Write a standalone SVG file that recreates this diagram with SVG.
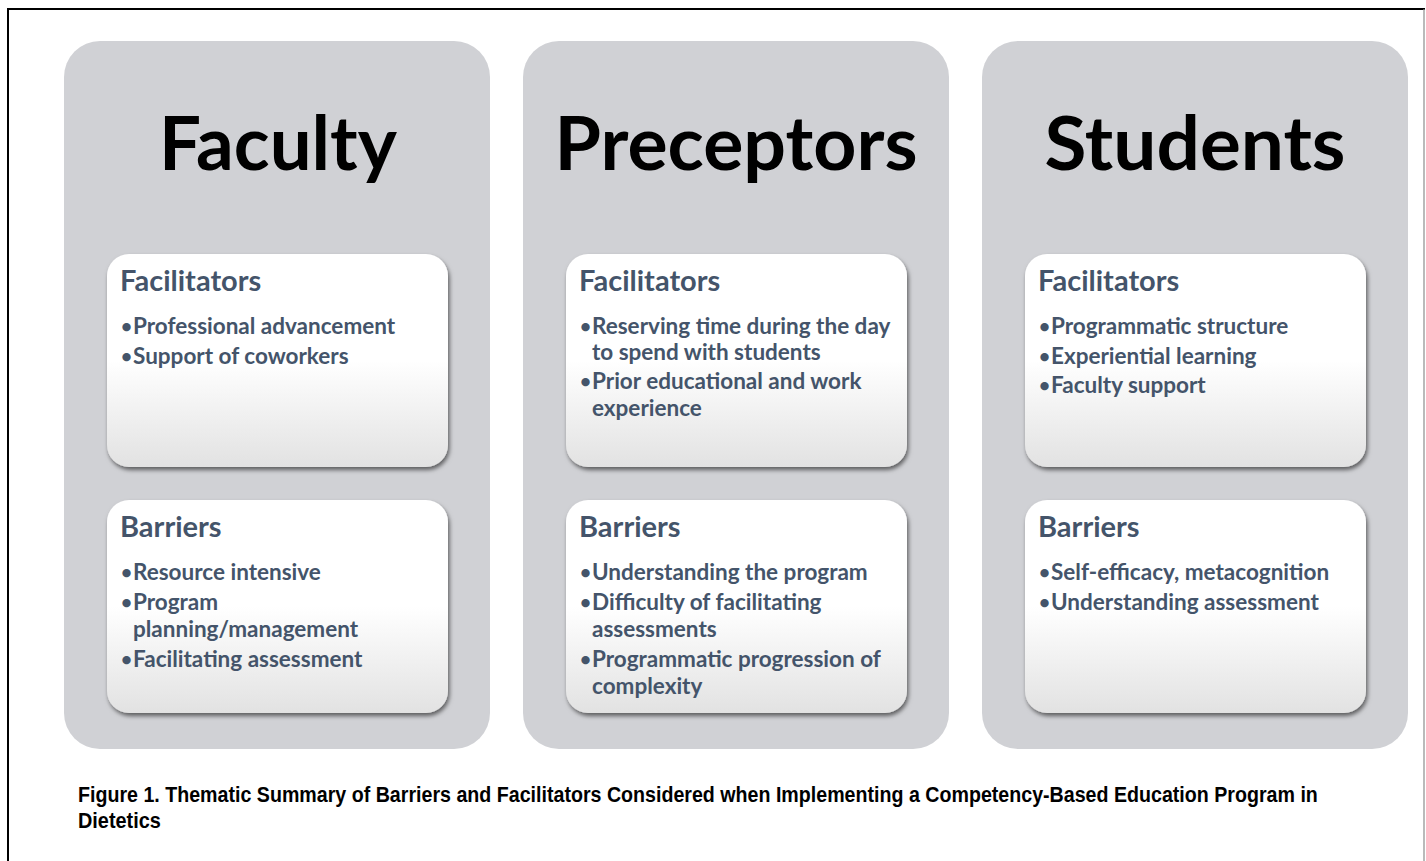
<svg xmlns="http://www.w3.org/2000/svg" width="1426" height="861" viewBox="0 0 1426 861">
  <style>
    .panel { fill: #d0d1d5; }
    .card { fill: url(#cardFill); filter: url(#cardShadow); }
    .title { font-family: Lato, "Liberation Sans", sans-serif; font-weight: 700; font-size: 75px; fill: #000; text-anchor: middle; }
    .head { font-family: Lato, "Liberation Sans", sans-serif; font-weight: 700; font-size: 29px; fill: #44546a; }
    .item { font-family: Lato, "Liberation Sans", sans-serif; font-weight: 700; font-size: 22.5px; fill: #44546a; }
    .dot { font-family: Lato, "Liberation Sans", sans-serif; font-weight: 700; font-size: 19px; fill: #44546a; }
    .caption { font-family: "Liberation Sans", Arial, sans-serif; font-weight: 700; font-size: 22px; fill: #000; }
  </style>
  <defs>
    <linearGradient id="cardFill" x1="0" y1="0" x2="0" y2="1">
      <stop offset="0" stop-color="#ffffff"/>
      <stop offset="0.5" stop-color="#ffffff"/>
      <stop offset="1" stop-color="#e2e2e2"/>
    </linearGradient>
    <filter id="cardShadow" x="-10%" y="-10%" width="120%" height="125%">
      <feDropShadow dx="1.5" dy="3" stdDeviation="2" flood-color="#000" flood-opacity="0.55"/>
    </filter>
  </defs>

  <rect x="0" y="0" width="1426" height="861" fill="#ffffff"/>

  <!-- frame -->
  <g id="frame">
    <line x1="8" y1="9" x2="1425" y2="9" stroke="#000" stroke-width="2"/>
    <line x1="8" y1="8" x2="8" y2="861" stroke="#000" stroke-width="2"/>
    <line x1="1424" y1="9" x2="1424" y2="861" stroke="#8c8c8c" stroke-width="1.2"/>
  </g>

  <!-- Faculty column -->
  <g id="faculty">
    <rect class="panel" x="64" y="41" width="426" height="708" rx="36" ry="36"/>
    <text class="title" x="278" y="170" textLength="238" lengthAdjust="spacingAndGlyphs">Faculty</text>
    <g id="faculty-facilitators">
      <rect class="card" x="107" y="254" width="341" height="213" rx="22" ry="22"/>
      <text class="head" x="120" y="291">Facilitators</text>
      <text class="dot" x="121" y="333">•</text><text class="item" x="133" y="334">Professional advancement</text>
      <text class="dot" x="121" y="362.5">•</text><text class="item" x="133" y="363.5">Support of coworkers</text>
    </g>
    <g id="faculty-barriers">
      <rect class="card" x="107" y="500" width="341" height="213" rx="22" ry="22"/>
      <text class="head" x="120" y="537">Barriers</text>
      <text class="dot" x="121" y="579">•</text><text class="item" x="133" y="580">Resource intensive</text>
      <text class="dot" x="121" y="609">•</text><text class="item" x="133" y="610">Program</text>
      <text class="item" x="133" y="637">planning/management</text>
      <text class="dot" x="121" y="666">•</text><text class="item" x="133" y="667">Facilitating assessment</text>
    </g>
  </g>

  <!-- Preceptors column -->
  <g id="preceptors">
    <rect class="panel" x="523" y="41" width="426" height="708" rx="36" ry="36"/>
    <text class="title" x="736" y="170" textLength="363" lengthAdjust="spacingAndGlyphs">Preceptors</text>
    <g id="preceptors-facilitators">
      <rect class="card" x="566" y="254" width="341" height="213" rx="22" ry="22"/>
      <text class="head" x="579" y="291">Facilitators</text>
      <text class="dot" x="580" y="332.5">•</text><text class="item" x="592" y="333.5">Reserving time during the day</text>
      <text class="item" x="592" y="360">to spend with students</text>
      <text class="dot" x="580" y="388">•</text><text class="item" x="592" y="389">Prior educational and work</text>
      <text class="item" x="592" y="415.5">experience</text>
    </g>
    <g id="preceptors-barriers">
      <rect class="card" x="566" y="500" width="341" height="213" rx="22" ry="22"/>
      <text class="head" x="579" y="537">Barriers</text>
      <text class="dot" x="580" y="579">•</text><text class="item" x="592" y="580">Understanding the program</text>
      <text class="dot" x="580" y="609">•</text><text class="item" x="592" y="610">Difficulty of facilitating</text>
      <text class="item" x="592" y="637">assessments</text>
      <text class="dot" x="580" y="666">•</text><text class="item" x="592" y="667">Programmatic progression of</text>
      <text class="item" x="592" y="693.5">complexity</text>
    </g>
  </g>

  <!-- Students column -->
  <g id="students">
    <rect class="panel" x="982" y="41" width="426" height="708" rx="36" ry="36"/>
    <text class="title" x="1195" y="170" textLength="301" lengthAdjust="spacingAndGlyphs">Students</text>
    <g id="students-facilitators">
      <rect class="card" x="1025" y="254" width="341" height="213" rx="22" ry="22"/>
      <text class="head" x="1038" y="291">Facilitators</text>
      <text class="dot" x="1039" y="333">•</text><text class="item" x="1051" y="334">Programmatic structure</text>
      <text class="dot" x="1039" y="362.5">•</text><text class="item" x="1051" y="363.5">Experiential learning</text>
      <text class="dot" x="1039" y="392">•</text><text class="item" x="1051" y="393">Faculty support</text>
    </g>
    <g id="students-barriers">
      <rect class="card" x="1025" y="500" width="341" height="213" rx="22" ry="22"/>
      <text class="head" x="1038" y="537">Barriers</text>
      <text class="dot" x="1039" y="579">•</text><text class="item" x="1051" y="580">Self-efficacy, metacognition</text>
      <text class="dot" x="1039" y="609">•</text><text class="item" x="1051" y="610">Understanding assessment</text>
    </g>
  </g>

  <!-- no connectors in this figure -->
  <g id="connectors"/>

  <!-- caption, condensed horizontally -->
  <g id="caption">
    <text class="caption" transform="translate(78 802) scale(0.82 1)" x="0" y="0" textLength="1512" lengthAdjust="spacingAndGlyphs">Figure 1. Thematic Summary of Barriers and Facilitators Considered when Implementing a Competency-Based Education Program in</text>
    <text class="caption" transform="translate(78 828) scale(0.82 1)" x="0" y="0" textLength="101" lengthAdjust="spacingAndGlyphs">Dietetics</text>
  </g>
</svg>
